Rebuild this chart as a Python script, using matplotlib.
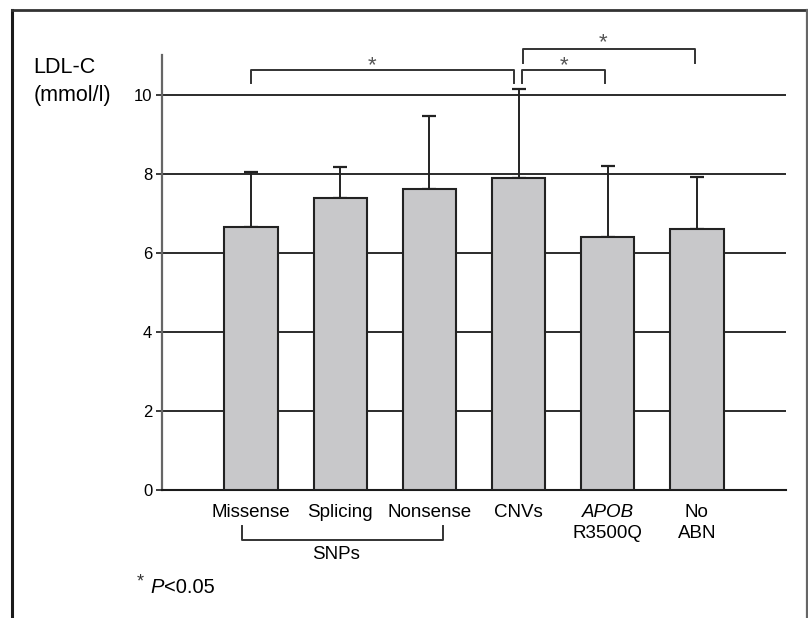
"""LDL-C by mutation type bar chart."""
import numpy as np
from matplotlib import pyplot as plt
from matplotlib.lines import Line2D
from matplotlib.transforms import blended_transform_factory

plt.rcParams['font.family'] = ['Liberation Sans', 'DejaVu Sans']

groups = ['Missense', 'Splicing', 'Nonsense', 'CNVs', 'APOB', 'No']
second_line = ['', '', '', '', 'R3500Q', 'ABN']
means = [6.66, 7.38, 7.62, 7.88, 6.39, 6.59]
upper = [1.37, 0.79, 1.85, 2.25, 1.80, 1.33]
yticks = [0, 2, 4, 6, 8, 10]

# significance brackets: (x left, x right, y top, y bottom, star x, star y)
brackets = [(0.0, 2.95, 10.63, 10.28, 1.36, 10.74),
            (3.04, 3.97, 10.62, 10.28, 3.51, 10.74),
            (3.05, 4.98, 11.14, 10.80, 3.95, 11.32)]

fig = plt.figure(figsize=(8.08, 6.18), dpi=100)
ax = fig.add_axes([0.2005, 0.2071, 0.7723, 0.7039])

x = np.arange(len(groups))
ax.bar(x, means, width=0.6, color='#c8c8ca', edgecolor='#222222',
       linewidth=1.5, zorder=3)
ax.errorbar(x, means, yerr=[np.zeros(len(x)), upper], fmt='none',
            ecolor='#222222', elinewidth=1.4, capsize=5, capthick=1.6,
            zorder=2)

ax.set_xlim(-1, 6)
ax.set_ylim(0, 11)
ax.set_yticks(yticks)
ax.yaxis.grid(True, color='#1a1a1a', linewidth=1.3)
ax.set_axisbelow(True)
ax.tick_params(axis='y', length=4, width=1.2, labelsize=12, pad=3,
               color='#1a1a1a')
ax.set_xticks(x)
ax.set_xticklabels(groups)
ax.tick_params(axis='x', length=0, labelsize=13.5, pad=10)
ax.get_xticklabels()[4].set_style('italic')

for s in ['top', 'right']:
    ax.spines[s].set_visible(False)
ax.spines['left'].set_color('#666666')
ax.spines['left'].set_linewidth(1.6)
ax.spines['bottom'].set_color('#1a1a1a')
ax.spines['bottom'].set_linewidth(1.5)

for i, t in enumerate(second_line):
    if t:
        ax.annotate(t, xy=(x[i], 0), xycoords=('data', 'axes fraction'),
                    xytext=(0, -31.5), textcoords='offset points',
                    ha='center', va='center', fontsize=13.5)

for x0, x1, yt, yb, sx, sy in brackets:
    ax.plot([x0, x0, x1, x1], [yb, yt, yt, yb], color='#333333',
            linewidth=1.4, clip_on=False)
    ax.text(sx, sy, '*', ha='center', va='center', fontsize=16,
            color='#555555', clip_on=False)

# SNPs bracket below the labels
trans = blended_transform_factory(ax.transData, ax.transAxes)
ax.plot([-0.1, -0.1, 2.15, 2.15], [-0.0828, -0.115, -0.115, -0.0828],
        color='#333333', linewidth=1.4, transform=trans, clip_on=False)
ax.text(0.95, -0.149, 'SNPs', transform=trans, ha='center', va='center',
        fontsize=13.5)

fig.text(0.041, 0.891, 'LDL-C', ha='left', va='center', fontsize=15.5)
fig.text(0.041, 0.846, '(mmol/l)', ha='left', va='center', fontsize=15.5)

fig.text(0.169, 0.058, '*', ha='left', va='center', fontsize=13,
         color='#333333')
fig.text(0.186, 0.049, 'P', ha='left', va='center', fontsize=14.5,
         style='italic')
fig.text(0.203, 0.049, '<0.05', ha='left', va='center', fontsize=14.5)

# frame around the figure (open at the bottom)
fig.add_artist(Line2D([0.0149, 0.0149], [0.0, 0.984], color='#1a1a1a',
                      linewidth=2.2, transform=fig.transFigure))
fig.add_artist(Line2D([0.0149, 0.9988], [0.984, 0.984], color='#333333',
                      linewidth=2.0, transform=fig.transFigure))
fig.add_artist(Line2D([0.9988, 0.9988], [0.0, 0.984], color='#666666',
                      linewidth=1.6, transform=fig.transFigure))

fig.savefig('out.png', dpi=100)
